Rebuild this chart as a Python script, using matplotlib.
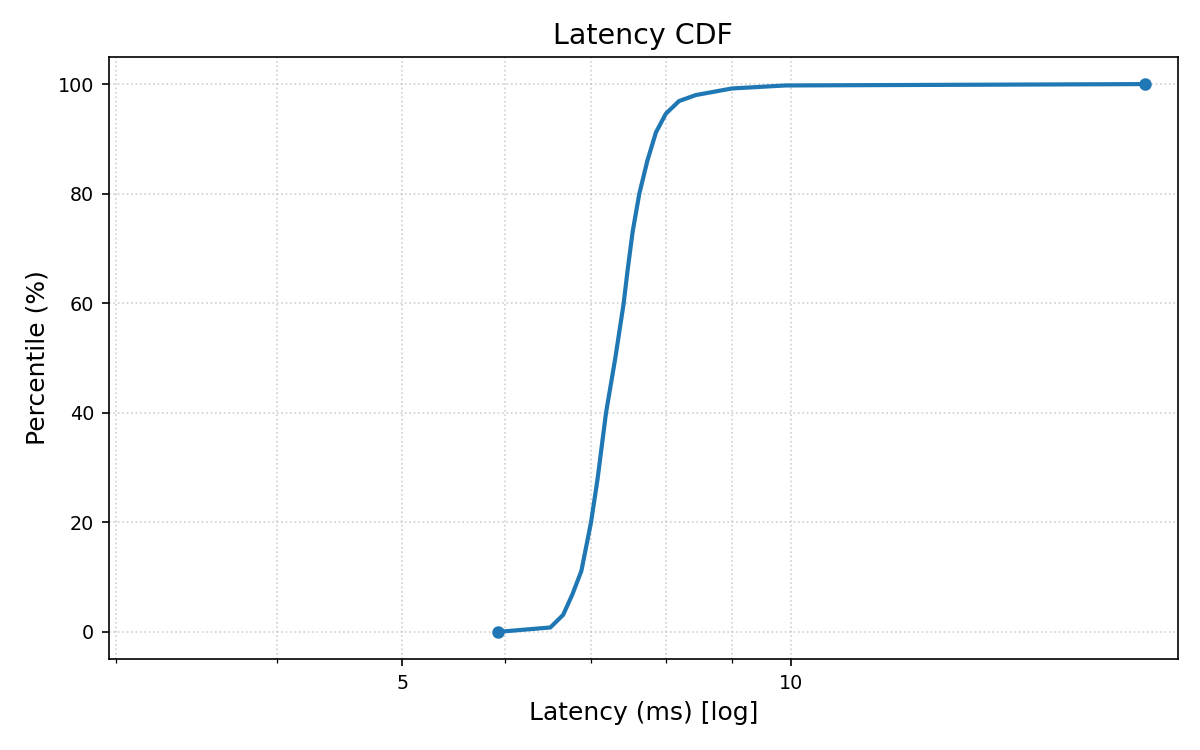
import matplotlib
matplotlib.use("Agg")
import matplotlib.pyplot as plt
from matplotlib.ticker import FixedLocator, NullFormatter, ScalarFormatter

# percentile points
percentiles = [0, 0.8, 3.1, 6.8, 11.1, 20, 27.7, 40, 50, 60, 65.8, 73.1, 80, 86,
               91.2, 94.6, 96.9, 98.0, 99.2, 99.75, 100]
latency_ms = [5.93, 6.51, 6.66, 6.77, 6.88, 7.0, 7.08, 7.19, 7.31, 7.42, 7.47, 7.54,
              7.63, 7.74, 7.86, 8.0, 8.19, 8.44, 9.0, 9.9, 18.8]

major_ticks = [5, 10]
minor_ticks = [3, 4, 6, 7, 8, 9]

fig, ax = plt.subplots(figsize=(8, 5), dpi=150)
fig.subplots_adjust(left=0.0905, right=0.9817, top=0.9244, bottom=0.121)

ax.plot(latency_ms, percentiles, color="#1f77b4", linewidth=2, marker="o",
        markersize=5, markevery=[0, len(latency_ms) - 1])

ax.set_xscale("log")
ax.set_xlim(2.96, 19.95)
ax.xaxis.set_major_locator(FixedLocator(major_ticks))
ax.xaxis.set_major_formatter(ScalarFormatter())
ax.xaxis.set_minor_locator(FixedLocator(minor_ticks))
ax.xaxis.set_minor_formatter(NullFormatter())
ax.set_ylim(-5, 105)

ax.tick_params(axis="both", which="major", labelsize=9.2)
ax.grid(True, which="both", linestyle=":", color="#b0b0b0", alpha=0.6)

ax.set_title("Latency CDF", fontsize=13.7)
ax.set_xlabel("Latency (ms) [log]", fontsize=12)
ax.set_ylabel("Percentile (%)", fontsize=12)

fig.savefig("out.png", dpi=150)
